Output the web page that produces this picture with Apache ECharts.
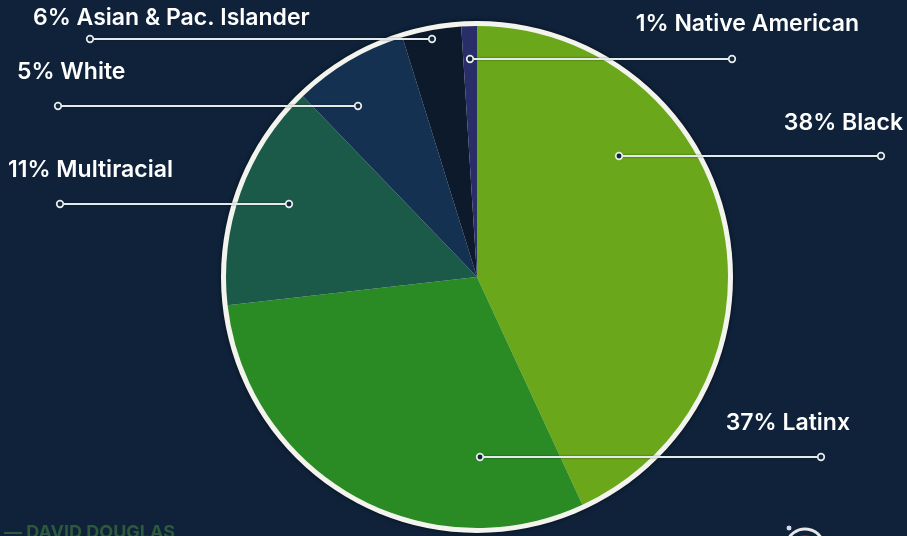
<!DOCTYPE html>
<html>
<head>
<meta charset="utf-8">
<script src="https://cdn.jsdelivr.net/npm/echarts@6/dist/echarts.min.js"></script>
<style>
html,body{margin:0;padding:0;background:#0f223a;}
#chart{width:907px;height:536px;}
</style>
</head>
<body>
<div id="chart"></div>
<script>
// Categories in clockwise order from 12 o'clock
var categories = ['Black', 'Latinx', 'Multiracial', 'White', 'Asian & Pac. Islander', 'Native American'];
// Slice sizes as drawn in the picture (share of the circle, %)
var sliceValues = [43.1, 30.1, 14.6, 7.4, 3.8, 1.0];
// Percentages printed in the labels
var labelPercents = [38, 37, 11, 5, 6, 1];

var sliceColors = ['#6aa71a', '#2a8a24', '#1b5a49', '#143152', '#0c1a2c', '#2a2e68'];

// leader-line layout (pixels): line y, inner x, outer x, text anchor
var leaderLayout = [
  {y: 156, x1: 619, x2: 881, tx: 903, ty: 123, align: 'right'},
  {y: 457, x1: 480, x2: 821, tx: 850, ty: 423, align: 'right'},
  {y: 204, x1: 289, x2: 60,  tx: 8,   ty: 170, align: 'left'},
  {y: 106, x1: 358, x2: 58,  tx: 17,  ty: 72,  align: 'left'},
  {y: 39,  x1: 432, x2: 90,  tx: 33,  ty: 18,  align: 'left'},
  {y: 59,  x1: 470, x2: 732, tx: 859, ty: 24,  align: 'right'}
];

var pieData = categories.map(function (c, i) {
  return {name: c, value: sliceValues[i], itemStyle: {color: sliceColors[i]}};
});

var leaders = [];
leaderLayout.forEach(function (L) {
  leaders.push({
    type: 'line', z: 100, silent: true,
    shape: {x1: L.x1, y1: L.y, x2: L.x2, y2: L.y},
    style: {stroke: '#e4eaea', lineWidth: 2, shadowBlur: 2, shadowColor: 'rgba(0,0,0,0.5)'}
  });
  [L.x1, L.x2].forEach(function (x) {
    leaders.push({
      type: 'circle', z: 101, silent: true,
      shape: {cx: x, cy: L.y, r: 3.3},
      style: {fill: '#12263c', stroke: '#e6ecec', lineWidth: 1.7}
    });
  });
});

var chart = echarts.init(document.getElementById('chart'));
chart.setOption({
  backgroundColor: '#0f223a',
  animation: false,
  graphic: leaders.concat([
    {type: 'text', left: 4, top: 524, silent: true,
     style: {text: '— DAVID DOUGLAS', fill: '#2c5a3a', font: 'bold 18px Inter'}},
    {type: 'circle', silent: true, shape: {cx: 805, cy: 548, r: 13},
     style: {fill: '#7a1f2a'}},
    {type: 'arc', silent: true, shape: {cx: 805, cy: 548, r: 19, startAngle: Math.PI * 1.05, endAngle: Math.PI * 1.85},
     style: {stroke: '#e8e8e8', lineWidth: 3, fill: null}},
    {type: 'circle', silent: true, shape: {cx: 789, cy: 528, r: 3},
     style: {fill: '#d8d8e8', stroke: '#0f223a', lineWidth: 1}}
  ]),
  series: [
    {
      type: 'pie', silent: true, z: 1,
      center: [477, 277], radius: [0, 256],
      startAngle: 90,
      label: {show: false}, labelLine: {show: false},
      itemStyle: {color: '#f4f4ee', shadowBlur: 4, shadowColor: 'rgba(0,0,0,0.6)'},
      data: [{name: 'ring', value: 1}]
    },
    {
      type: 'pie', silent: true, z: 2,
      center: [477, 277], radius: [0, 251],
      startAngle: 90, clockwise: true,
      avoidLabelOverlap: false,
      emphasis: {disabled: true},
      data: pieData,
      label: {
        show: true,
        color: '#ffffff',
        fontFamily: 'Inter',
        fontWeight: 600,
        fontSize: 23,
        formatter: function (p) { return labelPercents[p.dataIndex] + '% ' + p.name; }
      },
      labelLine: {show: false},
      labelLayout: function (params) {
        var L = leaderLayout[params.dataIndex];
        return {x: L.tx, y: L.ty, align: L.align, verticalAlign: 'middle'};
      }
    }
  ]
});
</script>
</body>
</html>
